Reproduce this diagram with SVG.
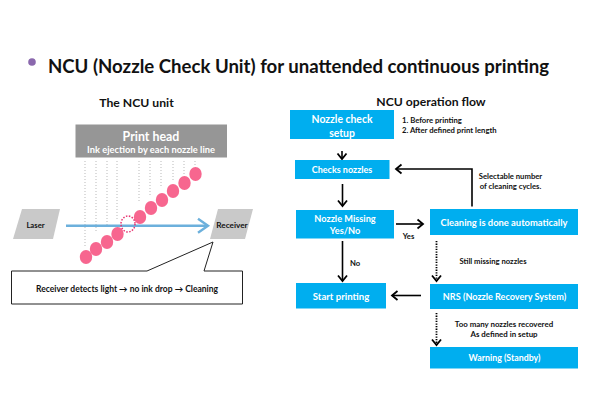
<svg xmlns="http://www.w3.org/2000/svg" width="590" height="400" viewBox="0 0 590 400">
<defs>
<marker id="open" markerUnits="userSpaceOnUse" markerWidth="12" markerHeight="12" refX="8.5" refY="6" orient="auto"><path d="M3 1.500L8.500 6L3 10.500" fill="none" stroke="#000" stroke-width="1.800"/></marker>
<marker id="blue" markerUnits="userSpaceOnUse" markerWidth="18" markerHeight="18" refX="14" refY="9" orient="auto"><path d="M4 2L14 9L4 16" fill="none" stroke="#6cb0dc" stroke-width="2.400"/></marker>
</defs>
<style>
text{font-family:"Lato","Open Sans","Liberation Sans",sans-serif;font-weight:700;text-anchor:middle}
.box{fill:#00aeef}
.w{fill:#fff;font-size:9.200px}
.k{fill:#111;font-size:7.700px}
.h{fill:#111;font-size:12.200px}
.drop{fill:#f7668f}
.nz{stroke:#b9b9b9;stroke-width:1;stroke-dasharray:1 2;fill:none}
.ar{stroke:#000;stroke-width:1.600;fill:none;marker-end:url(#open)}
.dt{stroke:#000;stroke-width:1.800;stroke-dasharray:1.300 1.300;fill:none;marker-end:url(#open)}
.para{fill:#c9c9c9}
</style>
<rect width="590" height="400" fill="#fff"/>
<g id="title">
<circle cx="32" cy="62" r="3.800" fill="#8a68ad"/>
<text x="298.500" y="72.500" style="font-size:18.600px" fill="#111">NCU (Nozzle Check Unit) for unattended continuous printing</text>
<text class="h" x="136.500" y="107">The NCU unit</text>
<text class="h" x="431" y="106">NCU operation flow</text>
</g>
<g id="nozzle-lines">
<path class="nz" d="M85 161V247M96 161V233M107 161V225M117 161V220M139 161V203M150 161V197M161 161V187M173 161V180M184 161V175M195 161V167"/>
</g>
<g id="print-head">
<rect x="75.500" y="124.500" width="151.500" height="33" fill="#969696"/>
<text x="151" y="140.500" fill="#fff" style="font-size:12.400px">Print head</text>
<text x="151" y="153" fill="#fff" style="font-size:9.300px">Ink ejection by each nozzle line</text>
</g>
<g id="drops">
<ellipse class="drop" cx="86" cy="257" rx="6.200" ry="7"/><ellipse class="drop" cx="96" cy="249" rx="6.200" ry="7"/><ellipse class="drop" cx="107" cy="242" rx="6.200" ry="7"/><ellipse class="drop" cx="117.500" cy="234" rx="6.200" ry="7"/>
<ellipse class="drop" cx="140" cy="217" rx="6.200" ry="7"/><ellipse class="drop" cx="151" cy="208" rx="6.200" ry="7"/><ellipse class="drop" cx="162" cy="200" rx="6.200" ry="7"/><ellipse class="drop" cx="173" cy="191" rx="6.200" ry="7"/><ellipse class="drop" cx="184.500" cy="183" rx="6.200" ry="7"/><ellipse class="drop" cx="195.500" cy="174" rx="6.200" ry="7"/>
</g>
<g id="laser"><path class="para" d="M22 209H60L53 239H13Z"/><text x="35.500" y="228" fill="#111" style="font-size:7.700px">Laser</text></g>
<g id="receiver"><path class="para" d="M218 209H253L245 239H210Z"/><text x="232" y="228" fill="#111" style="font-size:8.200px">Receiver</text></g>
<g id="beam">
<path d="M66 225.700H208" fill="none" stroke="#6cb0dc" stroke-width="2.400" marker-end="url(#blue)"/>
<ellipse cx="128" cy="224" rx="7" ry="8" fill="none" stroke="#e8306f" stroke-width="1.500" stroke-dasharray="1.500 1.500"/>
</g>
<g id="callout">
<path d="M11.500 271H147L213 242L204 271H242.500V304H11.500Z" fill="#fff" stroke="#222" stroke-width="1"/>
<text x="127" y="291.500" fill="#111" style="font-size:8.500px">Receiver detects light → no ink drop → Cleaning</text>
</g>
<g id="connectors">
<path class="ar" d="M342 151V159"/>
<path class="ar" d="M342.500 184V206"/>
<path class="ar" d="M396 224H423"/>
<path class="ar" d="M342.500 241V281"/>
<path class="ar" d="M472 206.500V169H396"/>
<path class="dt" d="M436.500 241V281"/>
<path class="ar" d="M421 295.500H392"/>
<path class="dt" d="M436.500 313V345"/>
</g>
<g id="nozzle-check-setup"><rect class="box" x="290" y="110" width="104" height="29"/><text class="w" x="342" y="122.500" style="font-size:10.400px">Nozzle check</text><text class="w" x="342" y="136.500" style="font-size:10.400px">setup</text></g>
<g id="checks-nozzles"><rect class="box" x="295" y="160" width="94.500" height="19"/><text class="w" x="342" y="173" style="font-size:9px">Checks nozzles</text></g>
<g id="nozzle-missing"><rect class="box" x="296" y="210" width="98" height="28.500"/><text class="w" x="345" y="222">Nozzle Missing</text><text class="w" x="345" y="234">Yes/No</text></g>
<g id="cleaning"><rect class="box" x="430" y="209" width="148" height="26"/><text class="w" x="504" y="226" style="font-size:9.400px">Cleaning is done automatically</text></g>
<g id="start-printing"><rect class="box" x="296" y="283" width="90" height="25.500"/><text class="w" x="341" y="300" style="font-size:9.600px">Start printing</text></g>
<g id="nrs"><rect class="box" x="430" y="284" width="148" height="25"/><text class="w" x="504.500" y="300" style="font-size:9.100px">NRS (Nozzle Recovery System)</text></g>
<g id="warning"><rect class="box" x="430" y="347" width="148" height="21.500"/><text class="w" x="504.500" y="361" style="font-size:8.800px">Warning (Standby)</text></g>
<g id="labels">
<text class="k" x="402" y="123" style="text-anchor:start">1. Before printing</text>
<text class="k" x="402" y="132.500" style="text-anchor:start">2. After defined print length</text>
<text class="k" x="510.500" y="179">Selectable number</text>
<text class="k" x="510.500" y="188.500">of cleaning cycles.</text>
<text class="k" x="408.500" y="239">Yes</text>
<text class="k" x="355" y="266">No</text>
<text class="k" x="493" y="264">Still missing nozzles</text>
<text class="k" x="504" y="327" style="font-size:7.900px">Too many nozzles recovered</text>
<text class="k" x="504" y="337" style="font-size:7.900px">As defined in setup</text>
</g>
</svg>
